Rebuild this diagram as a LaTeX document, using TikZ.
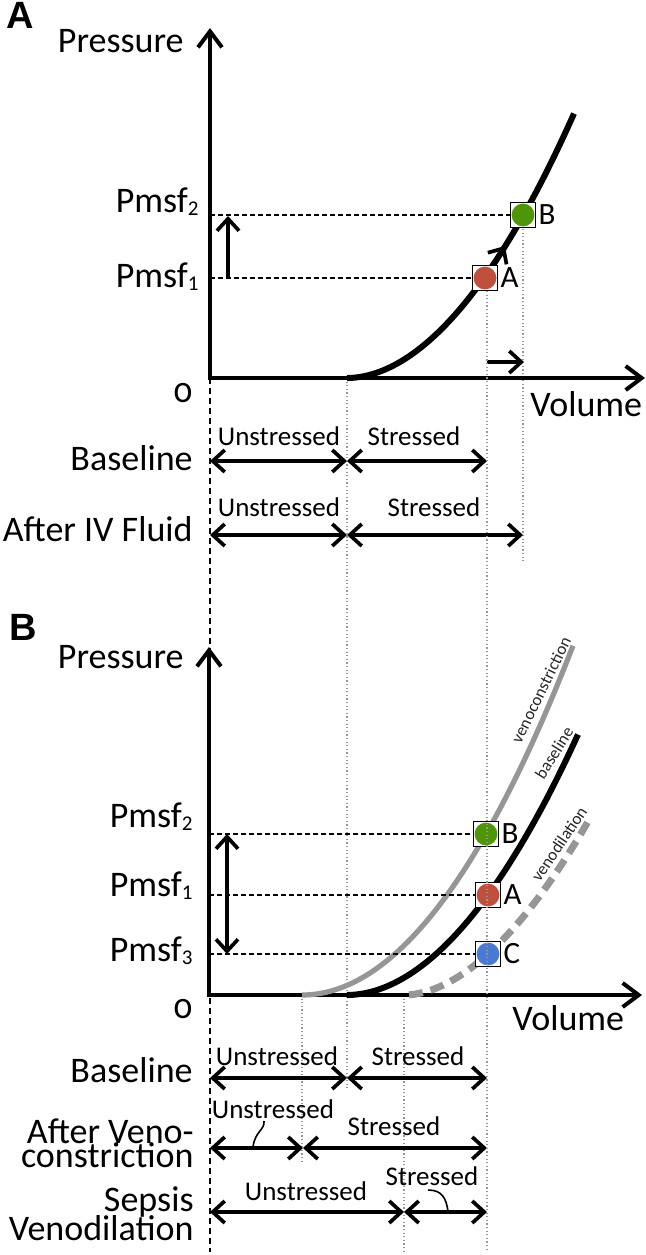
\documentclass[tikz,border=0pt]{standalone}
\usepackage{fontspec}
\setmainfont{Carlito}
\newfontfamily\panelfont{Liberation Sans}
\usetikzlibrary{arrows.meta}

\definecolor{ptred}{RGB}{192,80,62}
\definecolor{ptgreen}{RGB}{78,150,8}
\definecolor{ptblue}{RGB}{72,122,212}
\definecolor{curvegray}{RGB}{150,150,150}
\newcommand{\lowidx}[1]{\raisebox{-0.1em}{\fontsize{10.5}{11}\selectfont #1}}

\tikzset{
  lbl/.style={font=\fontsize{18}{13}\selectfont, inner sep=0pt},
  seg/.style={font=\fontsize{13.5}{14}\selectfont, inner sep=0pt, anchor=base},
  tag/.style={font=\fontsize{8.5}{9}\selectfont, inner sep=0pt, text=black!85},
  ptlbl/.style={font=\fontsize{15.5}{16}\selectfont, inner sep=0pt, anchor=west},
  panel/.style={font=\panelfont\fontsize{19}{19}\selectfont\bfseries, inner sep=0pt},
  axis/.style={line width=2pt, -{Straight Barb[length=8pt,width=12pt]}},
  span/.style={line width=1.85pt, {Straight Barb[length=6pt,width=11pt]}-{Straight Barb[length=6pt,width=11pt]}},
  push/.style={line width=1.85pt, -{Straight Barb[length=6pt,width=11pt]}},
  level/.style={dash pattern=on 2.5pt off 1.5pt, line width=0.6pt},
  guide/.style={curvegray, line width=0.6pt, dash pattern=on 0.6pt off 1.2pt},
  zero/.style={dash pattern=on 3pt off 2pt, line width=0.7pt},
  pmark/.style={draw, line width=0.8pt, fill=white, minimum size=12.5pt, inner sep=0pt,
    path picture={\fill[#1] (path picture bounding box.center) circle (5.7pt);}},
}

\begin{document}
\begin{tikzpicture}[x=0.5pt,y=-0.5pt]
\useasboundingbox (0,0) rectangle (646,1255);

% guide lines
\draw[zero] (210,378) -- (210,1252);
\draw[guide] (347,378) -- (347,1090);
\draw[guide] (523,229) -- (523,563);
\draw[guide] (302,995) -- (302,1162);
\draw[guide] (404,995) -- (404,1252);

% ---------- panel A ----------
\node[panel] (labA) at (20,15) {A};
\draw[axis] (210,380) -- (210,28);
\draw[axis] (208,378) -- (645,378);
\node[lbl, anchor=base east] (presA) at (184,52) {Pressure};
\node[lbl] (zeroA) at (183,393) {\addfontfeatures{Numbers=OldStyle}0};
\node[lbl, anchor=base west] (volA) at (530,416) {Volume};

\draw[line width=3pt] (347,378) -- plot[domain=1:227,samples=60] ({347+\x},{378-54.53*(\x/100)^1.926});
\draw[push] (490,270) -- (505,246);
\draw[push] (487,362) -- (524,362);

\node[pmark=ptred] (mA) at (485,278) {};
\node[pmark=ptgreen] (mB) at (523,215) {};
\node[ptlbl] (tA) at ([xshift=1pt]mA.east) {A};
\node[ptlbl] (tB) at ([xshift=1pt]mB.east) {B};
\draw[level] (210,278) -- (mA.west);
\draw[level] (210,215) -- (mB.west);
\draw[push] (228,278) -- (228,216);
\node[lbl, anchor=base east] (p2A) at (199,212) {Pmsf\lowidx{2}};
\node[lbl, anchor=base east] (p1A) at (199,287) {Pmsf\lowidx{1}};

\node[lbl, anchor=base east] (baseA) at (193,470) {Baseline};
\node[lbl, anchor=base east] (ivA) at (193,541) {After IV Fluid};
\foreach \a/\b/\y in {210/347/461, 347/487/461, 210/347/535, 347/523/535}
  \draw[span] (\a,\y) -- (\b,\y);
\node[seg] (u1) at (279,445) {Unstressed};
\node[seg] (s1) at (414,445) {Stressed};
\node[seg] (u2) at (279,516) {Unstressed};
\node[seg] (s2) at (434,516) {Stressed};

% ---------- panel B ----------
\node[panel] (labB) at (23,627) {B};
\draw[axis] (209,997) -- (209,647);
\draw[axis] (207,995) -- (642,995);
\node[lbl, anchor=base east] (presB) at (184,668) {Pressure};
\node[lbl] (zeroB) at (183,1009) {\addfontfeatures{Numbers=OldStyle}0};
\node[lbl, anchor=base west] (volB) at (512,1030) {Volume};

\draw[curvegray, line width=2.6pt] (302,995) -- plot[domain=1:271,samples=60] ({302+\x},{995-47.55*(\x/100)^2});
\draw[line width=3pt] (347,995) -- plot[domain=1:231,samples=60] ({347+\x},{995-51.34*(\x/100)^1.94});
\draw[curvegray, line width=3.5pt, dash pattern=on 7pt off 4pt] plot[domain=4:185,samples=60] ({405+\x},{995-57.6*(\x/100)^1.825});
\node[tag, rotate=64] (tcon) at (541,690) {venoconstriction};
\node[tag, rotate=58] (tbas) at (554,753) {baseline};
\node[tag, rotate=56] (tdil) at (559,844) {venodilation};

\node[pmark=ptgreen] (nB) at (486,834) {};
\node[pmark=ptred] (nA) at (488,895) {};
\node[pmark=ptblue] (nC) at (488,954) {};
\node[ptlbl] (uB) at ([xshift=1pt]nB.east) {B};
\node[ptlbl] (uA) at ([xshift=1pt]nA.east) {A};
\node[ptlbl] (uC) at ([xshift=1pt]nC.east) {C};
\draw[level] (209,834) -- (nB.west);
\draw[level] (209,895) -- (nA.west);
\draw[level] (209,954) -- (nC.west);
\draw[span] (227,834) -- (227,954);
\node[lbl, anchor=base east] (p2B) at (193,827) {Pmsf\lowidx{2}};
\node[lbl, anchor=base east] (p1B) at (193,896) {Pmsf\lowidx{1}};
\node[lbl, anchor=base east] (p3B) at (193,961) {Pmsf\lowidx{3}};

\node[lbl, anchor=base east] (baseB) at (193,1082) {Baseline};
\node[lbl, anchor=base east] (conB1) at (194,1143) {After Veno-};
\node[lbl, anchor=base east] (conB2) at (194,1167) {constriction};
\node[lbl, anchor=base east] (sepB1) at (194,1211) {Sepsis};
\node[lbl, anchor=base east] (sepB2) at (194,1240) {Venodilation};
\foreach \a/\b/\y in {210/347/1078, 347/487/1078, 210/303/1148, 303/487/1148, 210/404/1212, 404/487/1212}
  \draw[span] (\a,\y) -- (\b,\y);
\node[seg] (u3) at (277,1065) {Unstressed};
\node[seg] (s3) at (418,1065) {Stressed};
\node[seg] (u4) at (273,1118) {Unstressed};
\node[seg] (s4) at (394,1135) {Stressed};
\node[seg] (u5) at (306,1200) {Unstressed};
\node[seg] (s5) at (432,1185) {Stressed};
\draw[line width=0.8pt] (264,1121) .. controls (265,1130) and (255,1131) .. (253,1147);
\draw[line width=0.8pt] (428,1190) .. controls (442,1190) and (446,1198) .. (448,1211);

% guide through markers
\draw[guide] (487,291) -- (487,1252);
\end{tikzpicture}
\end{document}
